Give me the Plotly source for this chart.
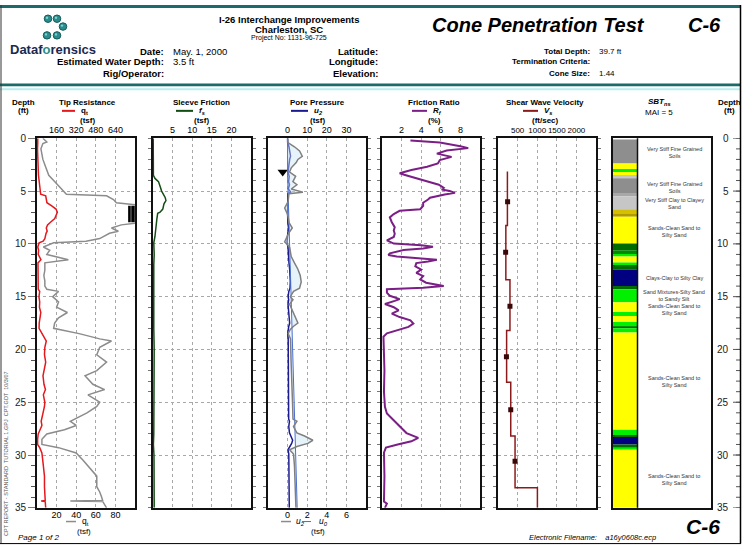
import plotly.graph_objects as go

W, H = 753, 554
FONT = "Liberation Sans, Arial, sans-serif"


def px(x):
    return x / W


def py(y):
    return 1 - y / H


max_depth = 35
water_depth = 3.5
depth_ticks = [0, 5, 10, 15, 20, 25, 30, 35]

qt_depth = [0.0, 0.2, 0.35, 0.5, 1.0, 1.5, 2.0, 2.5, 3.0, 3.5, 4.0, 4.5, 5.0, 5.3, 5.45, 5.8, 6.1, 6.4, 6.7, 7.0,
            7.3, 7.6, 7.95, 8.2, 8.5, 8.8, 9.0, 9.5, 9.75, 9.9, 10.3, 10.6, 11.0, 11.5, 11.8, 12.5, 13.0, 13.5, 14.0, 14.3,
            14.5, 15.0, 15.5, 16.0, 16.5, 17.0, 17.5, 18.0, 18.5, 19.0, 19.2, 19.8, 20.5, 21.2, 22.0, 22.5, 23.3, 23.8, 24.3, 25.0,
            25.4, 26.0, 26.8, 27.2, 27.6, 28.0, 28.5, 29.0, 29.3, 29.8, 30.5, 31.0, 32.0, 33.0, 33.5, 34.0, 34.3, 34.35, 34.4, 35.0]
qt = [6, 8, 10, 6, 4, 5, 6, 8, 10, 12, 17, 22, 28, 30, 71, 78, 81, 120, 155, 166,
      155, 145, 110, 86, 76, 83, 74, 64, 50, 17, 6.5, 13, 10, 32, 8, 8, 7, 8, 8, 10,
      22, 16, 22, 20, 31, 22, 18, 17, 43, 64, 76, 64, 61, 71, 61, 49, 57, 69, 52, 64,
      61, 51, 34, 40, 28, 10, 5, 5, 22, 40, 47, 52, 61, 61, 64, 66, 67, 34, 67, 71]

fs_depth = [0, 3.5, 3.8, 4.1, 4.55, 5.0, 5.6, 5.9, 6.2, 6.7, 7.0, 7.1, 7.6, 8.4, 9.3, 9.9, 11, 12, 14, 16,
            18, 20, 25, 28, 29, 30, 35]
fs = [0.05, 0.1, 0.5, 1.4, 1.8, 2.2, 3.1, 3.3, 2.8, 2.5, 1.8, 1.2, 1.0, 0.8, 0.5, 0.2, 0.3, 0.2, 0.15, 0.25,
      0.2, 0.3, 0.3, 0.2, 0.1, 0.25, 0.3]

u2_depth = [0.0, 0.4, 0.8, 1.2, 1.7, 2.0, 2.3, 2.8, 3.2, 3.6, 4.1, 4.4, 4.8, 5.1, 5.25, 5.5, 6.0, 6.6, 7.2, 8.0,
            8.5, 9.0, 9.8, 10.3, 11.2, 11.8, 12.4, 13.0, 13.6, 14.2, 14.5, 15.0, 15.3, 15.7, 16.3, 17.2, 17.5, 17.8, 18.1, 18.5,
            19.0, 21.0, 23.0, 25.0, 26.6, 26.8, 27.3, 27.9, 28.2, 28.6, 28.9, 29.2, 29.5, 29.9, 31.0, 33.0, 35.0]
u2 = [0.0, 0.03, 0.7, 1.22, 1.5, 1.05, 0.88, 0.37, 0.2, 0.82, 0.54, 0.95, 0.37, 1.56, 0.14, 0.1, 0.05, -0.3, 0.0, 0.15,
      0.48, 0.1, -0.3, 0.2, 0.37, 0.7, 1.05, 1.29, 1.39, 1.22, 0.61, 0.27, 0.55, 0.2, 0.48, 0.88, 1.05, 0.61, 0.27, 0.05,
      0.3, 0.35, 0.45, 0.5, 0.55, 0.95, 0.6, 0.95, 1.73, 2.58, 2.07, 0.95, 0.2, 0.6, 0.7, 0.78, 0.85]

u0_depth = [0, water_depth, max_depth]
u0 = [0, 0, 0.98]

rf_depth = [0.2, 0.4, 0.75, 0.93, 1.15, 1.45, 1.76, 2.07, 2.38, 2.69, 3.0, 3.31, 3.47, 3.78, 4.09, 4.4, 4.7, 4.85, 5.0, 5.17,
            5.33, 5.63, 5.8, 6.1, 6.4, 6.72, 6.87, 7.18, 7.49, 7.95, 8.42, 8.73, 9.04, 9.35, 9.66, 9.97, 10.12, 10.28, 10.43, 10.59,
            10.9, 11.05, 11.2, 11.36, 11.51, 11.66, 11.82, 12.13, 12.44, 12.75, 13.06, 13.37, 13.68, 13.99, 14.15, 14.3, 14.61, 14.92, 15.23, 15.4,
            15.7, 16.0, 16.3, 16.6, 16.93, 17.25, 17.55, 17.86, 18.17, 18.48, 18.79, 20.0, 22.0, 24.0, 25.44, 26.06, 26.68, 27.3, 27.92, 28.38,
            28.7, 29.0, 29.3, 29.77, 32.0, 34.4, 34.6, 35.0]
rf = [2.9, 5.9, 8.0, 8.8, 6.6, 5.6, 7.1, 5.9, 5.7, 4.6, 3.0, 1.8, 2.35, 3.5, 4.6, 5.8, 6.3, 6.1, 6.9, 7.45,
      6.4, 4.9, 4.7, 4.2, 4.2, 3.9, 1.8, 1.2, 0.8, 1.0, 1.3, 1.2, 1.3, 1.2, 0.5, 1.2, 4.0, 5.2, 4.2, 2.2,
      0.8, 0.65, 1.5, 4.2, 5.6, 4.7, 3.5, 3.4, 4.0, 3.5, 4.2, 3.9, 4.5, 6.3, 4.2, 0.5, 0.5, 0.8, 1.8, 1.3,
      0.3, 1.2, 1.7, 1.0, 1.8, 2.9, 3.2, 2.7, 1.7, 0.5, 0.15, 0.2, 0.25, 0.2, 0.3, 0.5, 1.2, 1.8, 2.5, 3.7,
      3.0, 1.6, 0.4, 0.2, 0.25, 0.2, 0.5, 0.3]

# shear wave velocity layers (top depth of each layer)
vs_top = [3.15, 8.26, 13.4, 18.2, 23.1, 28.2, 33.1]
vs = [240, 200, 305, 220, 325, 435, 1005]
vs_mark_depth = [6.0, 10.8, 15.9, 20.7, 25.7, 30.6]
vs_mark = [245, 195, 305, 215, 325, 435]

# soil behaviour type column
sbt_top = [0.12, 2.38, 2.9, 3.2, 3.47, 3.78, 5.17, 5.5, 6.72, 7.18, 7.42, 9.97, 10.6, 10.96, 11.2, 11.76, 12.0, 12.44,
           13.99, 14.3, 15.54, 16.46, 16.84, 17.39, 17.86, 18.0, 18.4, 27.6, 28.1, 28.3, 29.0, 29.3, 29.5]
sbt_zone = ["fine", "sand", "mix", "sand", "lt", "fine", "mid", "lt", "gold", "olive", "sand", "silt", "silt2", "mix",
            "sand", "mix", "silt", "clay", "silt", "mix", "sand", "mix", "sand", "mix", "silt", "mix", "sand", "mix",
            "silt", "clay", "silt", "mix", "sand"]
zone_color = {"fine": "#8e8e8e", "mid": "#a8a8a8", "lt": "#c6c6c6", "sand": "#ffff00", "mix": "#00f000",
              "silt": "#006c00", "silt2": "#008a00", "clay": "#000080", "gold": "#d4c000", "olive": "#b09a00"}
sbt_label_depth = [1.3, 4.7, 6.15, 8.8, 13.2, 14.9, 16.25, 23.0, 32.3]
sbt_label = ["Very Stiff Fine Grained<br>Soils", "Very Stiff Fine Grained<br>Soils",
             "Very Stiff Clay to Clayey<br>Sand", "Sands-Clean Sand to<br>Silty Sand",
             "Clays-Clay to Silty Clay", "Sand Mixtures-Silty Sand<br>to Sandy Silt",
             "Sands-Clean Sand to<br>Silty Sand", "Sands-Clean Sand to<br>Silty Sand",
             "Sands-Clean Sand to<br>Silty Sand"]

# ---------------- figure ----------------
fig = go.Figure()

# tip resistance: same qt drawn on two scales
fig.add_scatter(x=qt, y=qt_depth, xaxis="x2", yaxis="y", mode="lines",
                line=dict(color="#8c8c8c", width=1.5))
fig.add_scatter(x=qt, y=qt_depth, xaxis="x", yaxis="y", mode="lines",
                line=dict(color="#e3191e", width=1.5))
off = [d for d, v in zip(qt_depth, qt) if v > 100]
fig.add_bar(x=[7], base=[93], y=[(min(off) + max(off)) / 2], width=[max(off) - min(off)],
            orientation="h", xaxis="x2", yaxis="y",
            marker=dict(color="black", line_width=0,
                        pattern=dict(shape="|", fgcolor="#d0d0d0", bgcolor="black", size=4, solidity=0.3)))

# sleeve friction
fig.add_scatter(x=fs, y=fs_depth, xaxis="x3", yaxis="y3", mode="lines",
                line=dict(color="#124d12", width=1.5))

# pore pressure
fig.add_scatter(x=u0, y=u0_depth, xaxis="x5", yaxis="y4", mode="lines",
                line=dict(color="#4a6fd0", width=1))
fig.add_scatter(x=u2, y=u2_depth, xaxis="x5", yaxis="y4", mode="lines", fill="tonextx",
                fillcolor="rgba(200,228,245,0.45)", line=dict(color="#808080", width=1.5))
fig.add_scatter(x=u2, y=u2_depth, xaxis="x4", yaxis="y4", mode="lines",
                line=dict(color="#1b1b8f", width=1.5))
fig.add_scatter(x=[-2.5], y=[water_depth - 0.3], xaxis="x4", yaxis="y4", mode="markers",
                marker=dict(symbol="triangle-down", size=9, color="black"))

# friction ratio
fig.add_scatter(x=rf, y=rf_depth, xaxis="x6", yaxis="y6", mode="lines",
                line=dict(color="#7b1f86", width=2))

# shear wave velocity
fig.add_scatter(x=vs + [vs[-1]], y=vs_top + [max_depth], xaxis="x7", yaxis="y7", mode="lines",
                line=dict(color="#8b1a1a", width=1.5, shape="vh"))
fig.add_scatter(x=vs_mark, y=vs_mark_depth, xaxis="x7", yaxis="y7", mode="markers",
                marker=dict(symbol="square", size=5, color="#3a0808"))

# SBT column
sbt_bottom = sbt_top[1:] + [max_depth]
fig.add_bar(x=[0.5] * len(sbt_top), y=[b - t for t, b in zip(sbt_top, sbt_bottom)], base=sbt_top,
            width=1, xaxis="x8", yaxis="y8",
            marker=dict(color=[zone_color[z] for z in sbt_zone], line_width=0))

# ---------------- axes ----------------
Y0, Y1 = 136, 513
panels = {"x": (37, 135), "x3": (153, 251), "x4": (268, 366), "x6": (382, 480), "x7": (498, 596), "x8": (613, 711)}
GRID = dict(showgrid=True, gridcolor="#a8a8a8", griddash="dot", gridwidth=1)
TF = dict(size=9, color="black")
BORDER = dict(showline=True, linecolor="#111", linewidth=2)


def xax(name, rng, ticks, **kw):
    d = dict(domain=[px(panels[name][0]), px(panels[name][1])], range=rng, tickvals=ticks, side="top",
             mirror=True, ticks="", zeroline=False, tickfont=TF, tickangle=0, **BORDER, **GRID)
    d.update(kw)
    return d


def yax(anchor, **kw):
    d = dict(domain=[py(Y1), py(Y0)], range=[max_depth, 0], anchor=anchor, tick0=0, dtick=5,
             mirror="ticks", zeroline=False, ticks="outside", ticklen=3, tickcolor="#777", showticklabels=False,
             minor=dict(dtick=1, tick0=0, ticks="outside", ticklen=3, tickcolor="#777", showgrid=False),
             **BORDER, **GRID)
    d.update(kw)
    return d


overlay = dict(side="bottom", showgrid=False, showline=False, ticks="", zeroline=False, tickfont=TF)

fig.update_layout(
    xaxis=xax("x", [0, 800], [160, 320, 480, 640], anchor="y"),
    xaxis2=dict(overlaying="x", anchor="y", range=[0, 100], tickvals=[20, 40, 60, 80], **overlay),
    xaxis3=xax("x3", [0, 25], [5, 10, 15, 20], anchor="y3"),
    xaxis4=xax("x4", [-10, 40], [0, 10, 20, 30], anchor="y4"),
    xaxis5=dict(overlaying="x4", anchor="y4", range=[-2, 8], tickvals=[0, 2, 4, 6], **overlay),
    xaxis6=xax("x6", [0, 10], [2, 4, 6, 8], anchor="y6"),
    xaxis7=xax("x7", [0, 2500], [500, 1000, 1500, 2000], anchor="y7", tickfont=dict(size=8, color="black")),
    xaxis8=xax("x8", [0, 4], [], anchor="y8", showgrid=False, showticklabels=False),
    yaxis=yax("x", showticklabels=True, tickvals=depth_ticks, ticklen=7, mirror=True,
              tickfont=dict(size=10, color="#222"),
              minor=dict(dtick=1, tick0=0, ticks="outside", ticklen=4, tickcolor="#555", showgrid=False)),
    yaxis3=yax("x3"),
    yaxis4=yax("x4"),
    yaxis6=yax("x6"),
    yaxis7=yax("x7"),
    yaxis8=yax("x8", showgrid=False, ticks="", minor=dict(ticks="")),
)

# ---------------- text ----------------
notes = []
shapes = []


def note(x, y, text, size=9, bold=False, italic=False, anchor="center", color="black", angle=0):
    if italic:
        text = "<i>" + text + "</i>"
    if bold:
        text = "<b>" + text + "</b>"
    notes.append(dict(x=px(x), y=py(y), xref="paper", yref="paper", text=text, showarrow=False,
                      xanchor=anchor, yanchor="middle", textangle=angle,
                      font=dict(size=size, color=color, family=FONT)))


# right-hand depth scale, placed on the SBT panel's depth axis
for d in depth_ticks:
    notes.append(dict(x=px(731), y=d, xref="paper", yref="y8", text=str(d), showarrow=False,
                      xanchor="right", yanchor="middle", font=dict(size=10, color="#222", family=FONT)))
    shapes.append(dict(type="line", xref="paper", yref="y8", x0=px(733), x1=px(740), y0=d, y1=d,
                       line=dict(color="#555", width=1)))
for d in range(0, max_depth + 1):
    shapes.append(dict(type="line", xref="paper", yref="y8", x0=px(736), x1=px(740), y0=d, y1=d,
                       line=dict(color="#555", width=1)))

# header
note(53, 45, "Dataf<span style='color:#2a8c8c'>o</span>rensics", 13, bold=True, color="#1b2850")
note(289, 15, "I-26 Interchange Improvements", 9.5, bold=True)
note(289, 25, "Charleston, SC", 9.5, bold=True)
note(289, 34, "Project No: 1131-96-725", 7)
for yy, lab, val in [(47, "Date:", "May. 1, 2000"), (58, "Estimated Water Depth:", "3.5 ft"), (70, "Rig/Operator:", "")]:
    note(166, yy, lab, 9.5, bold=True, anchor="right")
    if val:
        note(171, yy, val, 9.5, anchor="left")
for yy, lab in [(47, "Latitude:"), (58, "Longitude:"), (70, "Elevation:")]:
    note(380, yy, lab, 9.5, bold=True, anchor="right")
note(538, 20, "Cone Penetration Test", 20, bold=True, italic=True)
note(704, 20, "C-6", 20, bold=True, italic=True)
for yy, lab, val in [(47, "Total Depth:", "39.7 ft"), (58, "Termination Criteria:", ""), (70, "Cone Size:", "1.44")]:
    note(592, yy, lab, 8, bold=True, anchor="right")
    if val:
        note(597, yy, val, 8, anchor="left")

# column headings
note(23, 99, "Depth", 8, bold=True)
note(23, 108, "(ft)", 8, bold=True)
note(729, 99, "Depth", 8, bold=True)
note(729, 108, "(ft)", 8, bold=True)
heads = [(87, "Tip Resistance", "q<sub>t</sub>", "(tsf)", 62, 75, "#e3191e"),
         (201, "Sleeve Friction", "<i>f<sub>s</sub></i>", "(tsf)", 176, 193, "#124d12"),
         (317, "Pore Pressure", "<i>u<sub>2</sub></i>", "(tsf)", 291, 308, "#1b1b8f"),
         (434, "Friction Ratio", "<i>R<sub>f</sub></i>", "(%)", 412, 427, "#7b1f86"),
         (545, "Shear Wave Velocity", "<i>V<sub>s</sub></i>", "(ft/sec)", 523, 538, "#8b1a1a")]
for cx, title, sym, unit, l0, l1, col in heads:
    note(cx, 99, title, 8, bold=True)
    note(l1 + 4, 108.5, sym, 8, bold=True, anchor="left")
    note(cx, 118, unit, 8, bold=True)
    shapes.append(dict(type="line", xref="paper", yref="paper", x0=px(l0), x1=px(l1), y0=py(108), y1=py(108),
                       line=dict(color=col, width=2)))
note(659, 98.5, "SBT<sub>ns</sub>", 8, bold=True, italic=True)
note(659, 110, "MAI = 5", 8)

# bottom legends
note(80, 527, "q<sub>t</sub>", 8.5, anchor="left")
note(84, 537, "(tsf)", 8)
shapes.append(dict(type="line", xref="paper", yref="paper", x0=px(66), x1=px(76), y0=py(527), y1=py(527),
                   line=dict(color="#8c8c8c", width=1.5)))
note(294, 527, "<i>u<sub>2</sub></i>", 8.5, anchor="left")
note(317, 527, "<i>u<sub>0</sub></i>", 8.5, anchor="left")
note(318, 537, "(tsf)", 8)
shapes.append(dict(type="line", xref="paper", yref="paper", x0=px(281), x1=px(291), y0=py(527), y1=py(527),
                   line=dict(color="#8c8c8c", width=1.5)))
shapes.append(dict(type="line", xref="paper", yref="paper", x0=px(302), x1=px(313), y0=py(527), y1=py(527),
                   line=dict(color="#4a6fd0", width=1, dash="dash")))

note(16, 543, "Page 1 of 2", 8, italic=True, anchor="left")
note(703, 532, "C-6", 21, bold=True, italic=True)
note(592, 543, "Electronic Filename:    a16y0608c.ecp", 7.5, italic=True)
note(6, 458, "CPT REPORT - STANDARD  TUTORIAL 1.GPJ  CPT.GDT  10/3/07", 5.5, color="#555", angle=-90)

# SBT labels
for d, lab in zip(sbt_label_depth, sbt_label):
    notes.append(dict(x=2.5, y=d, xref="x8", yref="y8", text=lab, showarrow=False,
                      font=dict(size=5.5, color="#333", family=FONT)))

# divider between SBT colour bar and labels
shapes.append(dict(type="line", xref="x8", yref="y8 domain", x0=1, x1=1, y0=0, y1=1,
                   line=dict(color="#111", width=1.5)))

# page frame
TEAL = "#1d6a6a"
shapes += [
    dict(type="rect", xref="paper", yref="paper", x0=0, x1=px(741), y0=py(3), y1=py(0),
         fillcolor=TEAL, line_width=0),
    dict(type="rect", xref="paper", yref="paper", x0=0, x1=px(741), y0=py(83), y1=py(80),
         fillcolor=TEAL, line_width=0),
    dict(type="line", xref="paper", yref="paper", x0=0, x1=px(741), y0=py(86), y1=py(86),
         line=dict(color="#b8eef0", width=2)),
    dict(type="line", xref="paper", yref="paper", x0=px(1), x1=px(1), y0=py(549), y1=py(0),
         line=dict(color="#333", width=1)),
    dict(type="line", xref="paper", yref="paper", x0=px(740.5), x1=px(740.5), y0=py(549.5), y1=py(0),
         line=dict(color="black", width=1.5)),
    dict(type="line", xref="paper", yref="paper", x0=0, x1=px(741), y0=py(549.5), y1=py(549.5),
         line=dict(color="black", width=1)),
]
# logo spheres
for cx, cy in [(48, 14), (57, 14), (63, 22), (47, 31), (57, 31)]:
    shapes.append(dict(type="circle", xref="paper", yref="paper", x0=px(cx - 3.8), x1=px(cx + 3.8),
                       y0=py(cy + 3.8), y1=py(cy - 3.8), fillcolor="#2a8c8c", line=dict(color="#175a5a", width=1)))
    shapes.append(dict(type="circle", xref="paper", yref="paper", x0=px(cx - 2.2), x1=px(cx + 0.2),
                       y0=py(cy + 0.2), y1=py(cy - 2.2), fillcolor="#7fd0d0", line_width=0))

fig.update_layout(
    width=W, height=H, autosize=False,
    margin=dict(l=0, r=0, t=0, b=0),
    paper_bgcolor="white", plot_bgcolor="rgba(0,0,0,0)",
    font=dict(family=FONT, size=9, color="black"),
    showlegend=False, barmode="overlay",
    annotations=notes, shapes=shapes,
)

fig.write_html("out.html", config={"displayModeBar": False},
               post_script="document.body.style.margin='0';document.body.style.overflow='hidden';")
